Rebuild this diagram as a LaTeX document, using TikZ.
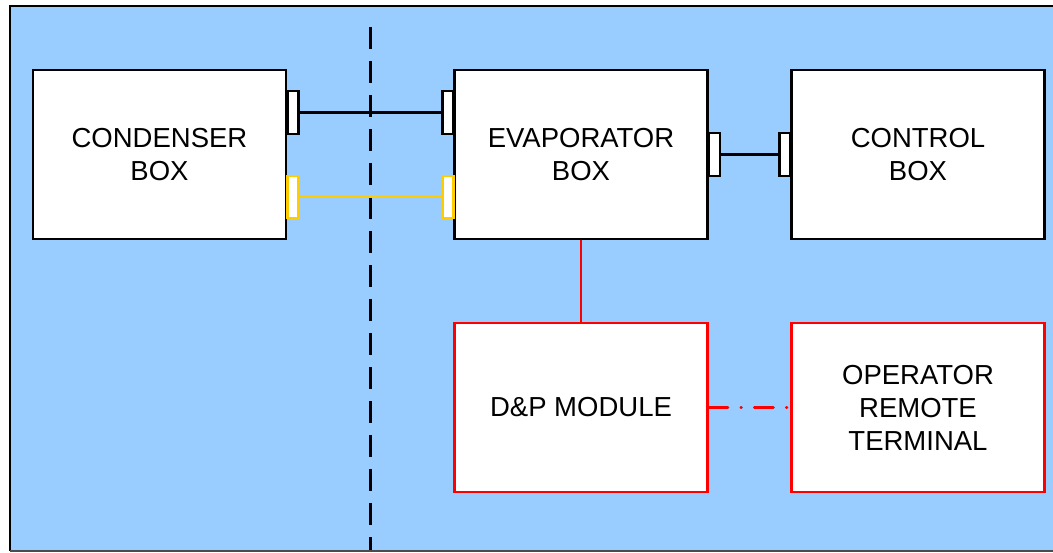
\documentclass[tikz,border=0pt]{standalone}
\usepackage{fontspec}
\setmainfont{Liberation Sans}
\definecolor{panel}{HTML}{99CCFF}
\definecolor{cable}{HTML}{FFCC00}
\definecolor{wire}{HTML}{FF0000}
\begin{document}
\begin{tikzpicture}[x=1pt,y=-1pt,
  unitbox/.style={draw=black,fill=white,line width=2.8pt,minimum width=253pt,minimum height=169pt,
    inner sep=0pt,align=center,font=\fontsize{27.5}{33}\selectfont},
  redbox/.style={unitbox,draw=wire},
  port/.style={draw=black,fill=white,line width=2.8pt},
  yport/.style={draw=cable,fill=white,line width=2.8pt},
  link/.style={line width=2.8pt}]
\useasboundingbox (0,0) rectangle (1053,552);
% panel background
\fill[panel] (10,6) rectangle (1070,551);
\draw[line width=1.5pt] (1070,6) -- (10,6) -- (10,551);
\draw[line width=1.5pt,black!70] (10,551) -- (1070,551);
% separation line
\draw[line width=3pt,dash pattern=on 22pt off 12pt] (370,27) -- (370,550);
% units
\node[unitbox] (cond) at (159.5,154.5) {CONDENSER\\BOX};
\node[unitbox] (evap) at (581,154.5) {EVAPORATOR\\BOX};
\node[unitbox] (ctrl) at (918,154.5) {CONTROL\\BOX};
\node[redbox] (dp) at (581,407.5) {D\&P MODULE};
\node[redbox] (ort) at (918,407.5) {OPERATOR\\REMOTE\\TERMINAL};
% connector ports
\draw[port] (cond.east |- 0,91) rectangle ++(11,43) coordinate (p1);
\draw[port] (evap.west |- 0,91) rectangle ++(-11,43) coordinate (p2);
\draw[yport] (cond.east |- 0,176) rectangle ++(11,42) coordinate (p3);
\draw[yport] (evap.west |- 0,176) rectangle ++(-11,42) coordinate (p4);
\draw[port] (evap.east |- 0,133) rectangle ++(11,43) coordinate (p5);
\draw[port] (ctrl.west |- 0,133) rectangle ++(-11,43) coordinate (p6);
% cables
\draw[link] (p1 |- 0,112.5) -- (p2 |- 0,112.5);
\draw[link,cable] (p3 |- 0,197) -- (p4 |- 0,197);
\draw[link] (p5 |- 0,154.5) -- (p6 |- 0,154.5);
\draw[link,wire] (evap.south) -- (dp.north);
\draw[link,wire,line cap=round,dash pattern=on 19pt off 13pt on 0.5pt off 13pt] (dp.east) -- (ort.west);
\end{tikzpicture}
\end{document}
